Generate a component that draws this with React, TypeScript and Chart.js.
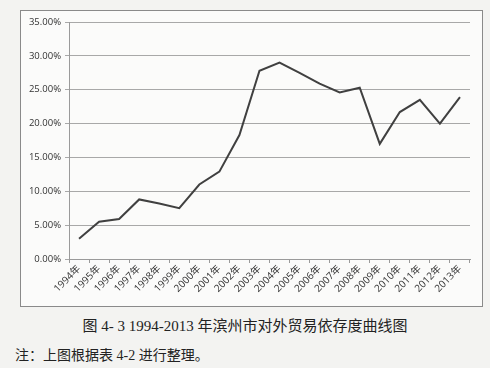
import React, { useEffect, useRef } from "react";
import { Chart, registerables } from "chart.js";

Chart.register(...registerables);

const years = ["1994年","1995年","1996年","1997年","1998年","1999年","2000年","2001年","2002年","2003年","2004年","2005年","2006年","2007年","2008年","2009年","2010年","2011年","2012年","2013年"];
const dependence = [3.0, 5.5, 5.9, 8.8, 8.2, 7.5, 11.0, 12.9, 18.3, 27.8, 29.0, 27.5, 25.9, 24.6, 25.3, 17.0, 21.7, 23.5, 20.0, 23.9];
const yTicks = [0, 5, 10, 15, 20, 25, 30, 35];
const caption = "图 4- 3 1994-2013 年滨州市对外贸易依存度曲线图";
const note = "注：上图根据表 4-2 进行整理。";

export default function App() {
  const ref = useRef<HTMLCanvasElement>(null);
  useEffect(() => {
    if (!ref.current) return;
    const chart = new Chart(ref.current, {
      type: "line",
      data: {
        labels: years,
        datasets: [{
          data: dependence,
          borderColor: "#404040",
          borderWidth: 2,
          pointRadius: 0,
          tension: 0,
          fill: false,
        }],
      },
      options: {
        animation: false,
        responsive: false,
        maintainAspectRatio: false,
        layout: { padding: { top: 11, right: 12, left: 0, bottom: 0 } },
        plugins: { legend: { display: false }, tooltip: { enabled: false } },
        scales: {
          x: {
            type: "category",
            offset: true,
            grid: { display: true, drawOnChartArea: false, drawTicks: true, tickLength: 4, offset: true, color: "#9a9a9a" },
            border: { display: true, color: "#9a9a9a" },
            ticks: {
              autoSkip: false,
              maxRotation: 45,
              minRotation: 45,
              color: "#333",
              font: { size: 10, family: "'Open Sans', 'Noto Sans CJK SC', sans-serif" },
              padding: 0,
            },
            afterFit: (s: any) => { s.height = 47; },
          },
          y: {
            min: 0,
            max: 35,
            afterBuildTicks: (s: any) => { s.ticks = yTicks.map((v) => ({ value: v })); },
            grid: { color: "#a8a8a8", drawTicks: true, tickLength: 4 },
            border: { display: true, color: "#9a9a9a" },
            ticks: {
              color: "#333",
              font: { size: 9.5, family: "'Open Sans', 'DejaVu Sans', sans-serif" },
              padding: 4,
              callback: (v: any) => Number(v).toFixed(2) + "%",
            },
            afterFit: (s: any) => { s.width = 48; },
          },
        },
      },
    });
    return () => chart.destroy();
  }, []);

  return (
    <div style={{ position: "fixed", left: 0, top: 0, width: 490, height: 368, background: "#f3f3f1", overflow: "hidden" }}>
      <div style={{ position: "absolute", left: 20, top: 10, width: 461, height: 295, border: "1px solid #8a8a8a", background: "#fbfbfa" }}>
        <canvas ref={ref} width={461} height={295} style={{ display: "block" }} />
      </div>
      <div style={{ position: "absolute", left: 0, width: 490, top: 314, textAlign: "center", fontSize: 15, color: "#222", fontFamily: "'Liberation Serif', 'Noto Sans CJK SC', serif", whiteSpace: "nowrap" }}>
        {caption}
      </div>
      <div style={{ position: "absolute", left: 15, top: 344, fontSize: 14, color: "#222", fontFamily: "'Liberation Serif', 'Noto Sans CJK SC', serif", whiteSpace: "nowrap" }}>
        {note}
      </div>
    </div>
  );
}
